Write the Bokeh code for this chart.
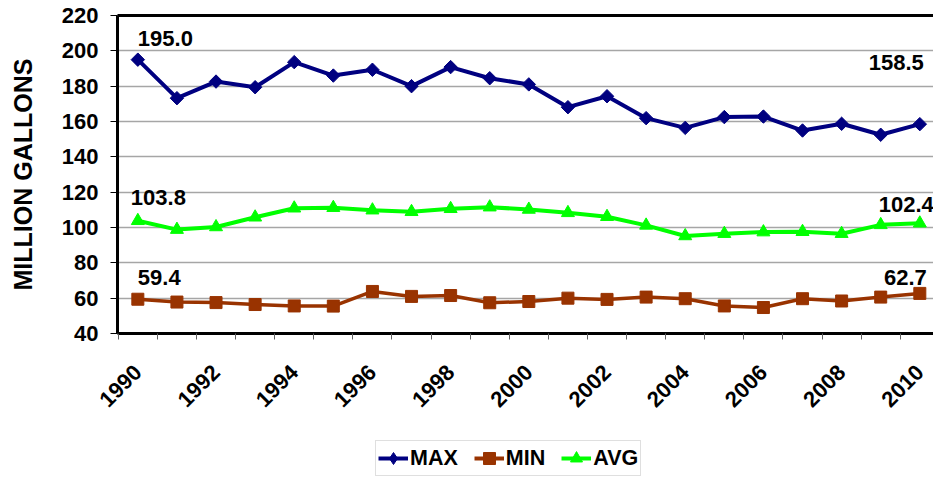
import math
from bokeh.plotting import figure
from bokeh.layouts import column
from bokeh.models import (Range1d, FixedTicker, Legend, LegendItem, LinearAxis,
                          ColumnDataSource)
from bokeh.core.properties import value
from bokeh.embed import file_html
from bokeh.resources import INLINE

years = list(range(1990, 2011))
max_vals = [195.0, 173.2, 182.6, 179.4, 193.6, 186.0, 189.3, 180.0, 190.8, 184.5,
            181.0, 168.1, 174.3, 161.9, 156.4, 162.5, 162.8, 154.9, 158.7, 152.5, 158.5]
min_vals = [59.4, 57.8, 57.5, 56.4, 55.6, 55.5, 63.8, 61.0, 61.5, 57.4,
            58.1, 60.0, 59.3, 60.6, 59.7, 55.6, 54.7, 59.7, 58.4, 60.6, 62.7]
avg_vals = [103.8, 98.8, 100.3, 105.8, 110.9, 111.2, 109.8, 108.9, 110.6, 111.5,
            110.2, 108.3, 106.1, 101.2, 95.2, 96.5, 97.4, 97.6, 96.5, 101.5, 102.4]
y_ticks = [40, 60, 80, 100, 120, 140, 160, 180, 200, 220]
x_tick_labels = years[::2]
series_names = ["MAX", "MIN", "AVG"]
series_colors = ["#000080", "#993300", "#00FF00"]
series_values = [max_vals, min_vals, avg_vals]

FONT = "Liberation Sans"

p = figure(width=933, height=420, output_backend="svg", toolbar_location=None,
           x_range=Range1d(1989.48, 2010.35), y_range=Range1d(40, 220),
           min_border_left=117, min_border_right=0, min_border_top=15,
           min_border_bottom=87)
p.outline_line_color = None
p.background_fill_color = "white"
p.border_fill_color = "white"

# grid
p.xgrid.grid_line_color = None
p.ygrid.grid_line_color = "#a6a6a6"
p.ygrid.grid_line_width = 1.5
p.ygrid.ticker = FixedTicker(ticks=y_ticks)

# y axis
ya = p.left[0]
ya.ticker = FixedTicker(ticks=y_ticks)
ya.axis_line_width = 3
ya.axis_line_color = "black"
ya.major_tick_out = 7
ya.major_tick_in = 0
ya.minor_tick_out = 0
ya.minor_tick_in = 0
ya.major_label_standoff = 12
ya.major_label_text_font = FONT
ya.major_label_text_font_style = "bold"
ya.major_label_text_font_size = "22px"
ya.major_label_text_color = "black"
ya.axis_label = "MILLION GALLONS"
ya.axis_label_text_font = FONT
ya.axis_label_text_font_style = "bold"
ya.axis_label_text_font_size = "25px"
ya.axis_label_text_color = "black"
ya.axis_label_standoff = 22

# x axis
xa = p.below[0]
xa.ticker = FixedTicker(ticks=x_tick_labels, minor_ticks=[y - 0.5 for y in years])
xa.axis_line_width = 3
xa.axis_line_color = "black"
xa.major_tick_out = 0
xa.major_tick_in = 0
xa.minor_tick_out = 6
xa.minor_tick_in = 0
xa.minor_tick_line_color = "#606060"
xa.major_label_orientation = math.pi / 4
xa.major_label_standoff = 29
xa.major_label_text_font = FONT
xa.major_label_text_font_style = "bold"
xa.major_label_text_font_size = "22px"
xa.major_label_text_color = "black"

# top border: a bare axis line with invisible labels
top = LinearAxis(axis_line_width=3, axis_line_color="black",
                 major_tick_out=0, major_tick_in=0, minor_tick_out=0, minor_tick_in=0,
                 major_label_text_font_size="1px", major_label_text_alpha=0,
                 major_label_standoff=0)
p.add_layout(top, "above")

# series
p.line(years, max_vals, line_color=series_colors[0], line_width=4)
p.scatter(years, max_vals, marker="square", angle=math.pi / 4, size=9.5,
          fill_color=series_colors[0], line_color=series_colors[0])
p.line(years, min_vals, line_color=series_colors[1], line_width=3.5)
p.scatter(years, min_vals, marker="square", size=12,
          fill_color=series_colors[1], line_color=series_colors[1])
p.line(years, avg_vals, line_color=series_colors[2], line_width=4)
p.scatter(years, avg_vals, marker="triangle", size=13,
          fill_color=series_colors[2], line_color=series_colors[2])

# end-point value labels
lab_x = [years[0], years[-1], years[0], years[-1], years[0], years[-1]]
lab_y = [max_vals[0], max_vals[-1], avg_vals[0], avg_vals[-1], min_vals[0], min_vals[-1]]
lab_txt = ["%.1f" % v for v in lab_y]
lab_align = ["left", "right", "left", "right", "left", "right"]
lab_xoff = [0, 4, -7, 14, 0, 7]
lab_yoff = [-14, -54, -16, -11, -14, -8]
src = ColumnDataSource(dict(x=lab_x, y=lab_y, t=lab_txt, a=lab_align,
                            xo=lab_xoff, yo=lab_yoff))
p.text(x="x", y="y", text="t", source=src, text_align="a", x_offset="xo",
       y_offset="yo", text_baseline="bottom", text_font=value(FONT),
       text_font_style="bold", text_font_size="22px", text_color="black")

# legend strip (separate figure below the chart; its ranges keep the
# series themselves out of view, only the legend swatches show)
q = figure(width=933, height=60, output_backend="svg", toolbar_location=None,
           x_range=Range1d(0, 1), y_range=Range1d(0, 1),
           x_axis_location=None, y_axis_location=None,
           min_border_left=0, min_border_right=0, min_border_top=0,
           min_border_bottom=0)
q.outline_line_color = None
q.xgrid.grid_line_color = None
q.ygrid.grid_line_color = None
markers = ["diamond", "square", "triangle"]
items = []
for name, col, vals, mk in zip(series_names, series_colors, series_values, markers):
    r1 = q.line(years, vals, line_color=col, line_width=4)
    r2 = q.scatter(years, vals, marker=mk, fill_color=col, line_color=col)
    items.append(LegendItem(label=name, renderers=[r1, r2]))

legend = Legend(items=items, location=(258, 4), orientation="horizontal")
legend.label_text_font = FONT
legend.label_text_font_style = "bold"
legend.label_text_font_size = "21.5px"
legend.label_text_color = "black"
legend.glyph_width = 30
legend.glyph_height = 30
legend.label_standoff = 2
legend.spacing = 16
legend.padding = 2
legend.margin = 0
legend.border_line_color = "#c0c0c0"
legend.border_line_width = 1.5
legend.background_fill_color = "white"
legend.background_fill_alpha = 1
q.add_layout(legend)

layout = column(p, q, spacing=0)
open("out.html", "w").write(file_html(layout, INLINE))
